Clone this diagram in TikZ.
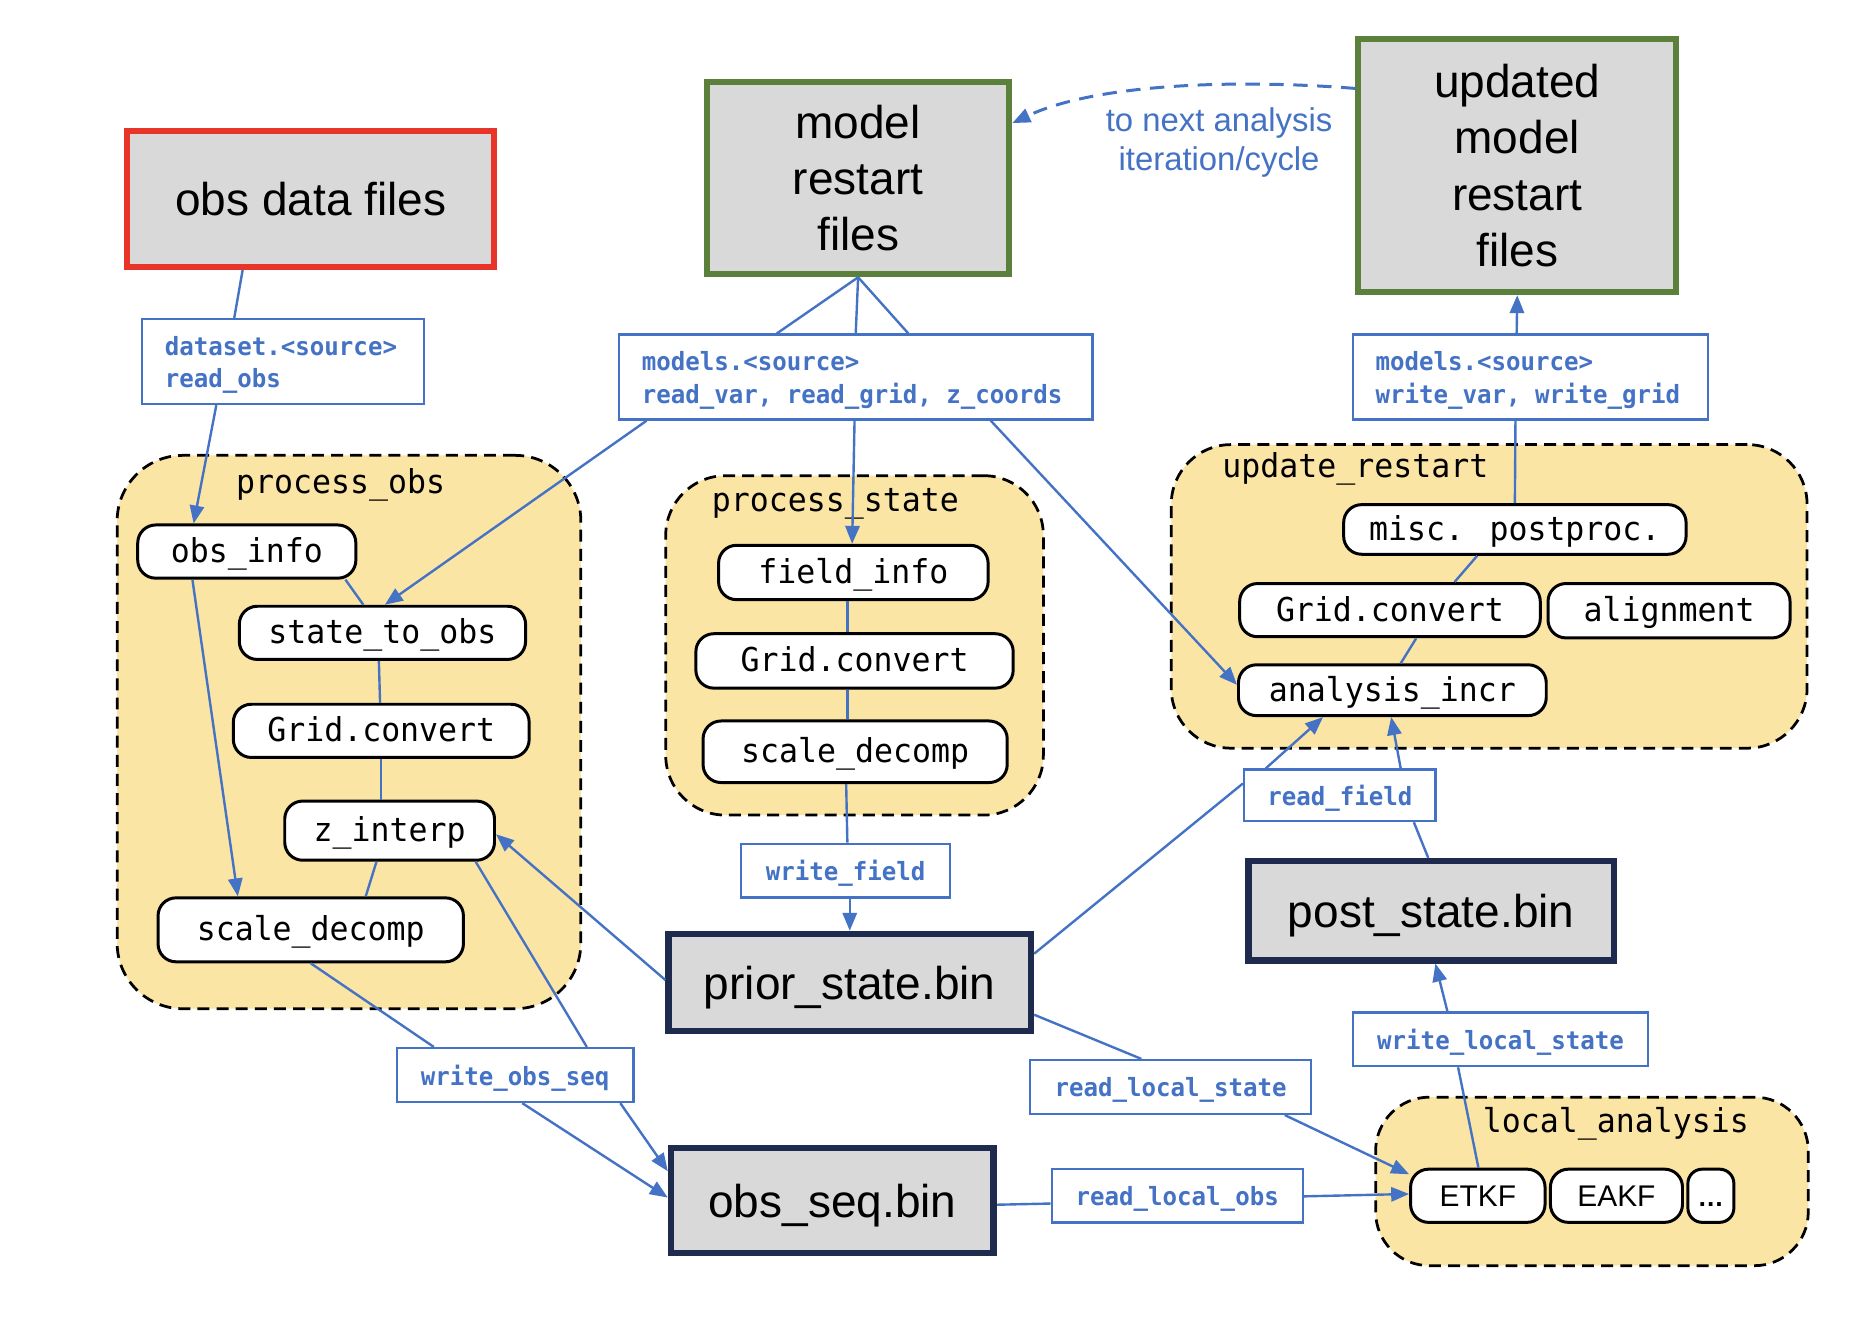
\documentclass[tikz,border=0pt]{standalone}
\usepackage{fontspec}
\setmainfont{Liberation Sans}
\newfontfamily\codefont{DejaVu Sans Mono}[FakeStretch=0.96]
\usetikzlibrary{arrows.meta,calc}
\definecolor{lblue}{HTML}{4472C4}
\definecolor{boxgray}{HTML}{D9D9D9}
\definecolor{grpyel}{HTML}{FBE5A5}
\definecolor{bred}{HTML}{E8352A}
\definecolor{bgreen}{HTML}{5B803C}
\definecolor{bnavy}{HTML}{1E2B4F}
\newcommand\fnfont{\codefont\fontsize{27.5}{30}\selectfont}
\newcommand\lblfont{\codefont\bfseries\fontsize{21}{27}\selectfont}
\newcommand\bigfont{\fontsize{38.5}{47}\selectfont}
\newcommand\twolines[3]{\begin{tabular}{@{}p{#1}@{}}\rule{0pt}{24.9pt}#2\\#3\end{tabular}}
\tikzset{
  bigbox/.style={draw, fill=boxgray, line width=5pt, inner sep=0pt, align=center, font=\bigfont},
  redbox/.style={bigbox, draw=bred},
  greenbox/.style={bigbox, draw=bgreen},
  navybox/.style={bigbox, draw=bnavy, line width=5.5pt, text depth=0pt},
  lblbase/.style={draw=lblue, line width=2pt, fill=white, inner sep=0pt, text=lblue, font=\lblfont},
  lbl/.style={lblbase, text depth=0pt},
  lbltwo/.style={lblbase, inner xsep=19pt, inner ysep=0pt},
  fnbox/.style={draw=black, line width=2.5pt, fill=white, rounded corners=15pt, inner sep=0pt, font=\fnfont, text height=21pt, text depth=2.5pt},
  grp/.style={draw=black, line width=2.3pt, fill=grpyel, dash pattern=on 10pt off 6pt},
  grptitle/.style={inner sep=0pt, font=\fnfont, text height=21pt, text depth=2.5pt},
  conn/.style={draw=lblue, line width=2pt},
  arr/.style={conn, -{Triangle[length=15pt,width=12pt]}},
}
\begin{document}
\begin{tikzpicture}[x=1pt,y=-1pt]
\useasboundingbox (0,0) rectangle (1568,1116);
\fill[white] (0,0) rectangle (1568,1116);

% groups
\node[grp, rounded corners=55pt, minimum width=388pt, minimum height=463pt] (gobs) at (292,612.5) {};
\node[grp, rounded corners=50pt, minimum width=316pt, minimum height=284pt] (gstate) at (715,540) {};
\node[grp, rounded corners=50pt, minimum width=532pt, minimum height=254pt] (gupd) at (1246,499) {};
\node[grp, rounded corners=45pt, minimum width=362pt, minimum height=141pt] (gloc) at (1332,988.5) {};
\node[grptitle] (tobs) at (285,404) {process\_obs};
\node[grptitle] (tstate) at (699,419) {process\_state};
\node[grptitle] (tupd) at (1134,390) {update\_restart};
\node[grptitle] (tloc) at (1352,938) {local\_analysis};

% big boxes
\node[redbox, minimum width=307pt, minimum height=114pt] (obsdata) at (260,166.5) {obs data files};
\node[greenbox, minimum width=253pt, minimum height=161pt] (model) at (718,149) {model\\restart\\files};
\node[greenbox, minimum width=266pt, minimum height=212pt] (updated) at (1269.5,138.5) {updated\\model\\restart\\files};
\node[navybox, minimum width=303pt, minimum height=81pt] (prior) at (711,822) {prior\_state.bin};
\node[navybox, minimum width=306pt, minimum height=83pt] (post) at (1197.5,762) {post\_state.bin};
\node[navybox, minimum width=270pt, minimum height=88pt] (obsseq) at (696.5,1004.5) {obs\_seq.bin};

\node[text=lblue, align=center, inner sep=0pt, font=\fontsize{27.5}{33}\selectfont] (nextlbl) at (1020,119) {to next analysis\\iteration/cycle};

% label boxes
\node[lbltwo, minimum height=71pt] (dset) at (237,302.5) {\twolines{198pt}{dataset.<source>}{read\_obs}};
\node[lbltwo, minimum height=71pt] (mread) at (716,315.5) {\twolines{358pt}{models.<source>}{read\_var, read\_grid, z\_coords}};
\node[lbltwo, minimum height=71pt] (mwrite) at (1280.5,315.5) {\twolines{259pt}{models.<source>}{write\_var, write\_grid}};
\node[lbl, minimum width=175pt, minimum height=45pt] (wfield) at (707.5,728.5) {write\_field};
\node[lbl, minimum width=160pt, minimum height=43pt] (rfield) at (1121,665.5) {read\_field};
\node[lbl, minimum width=198pt, minimum height=45pt] (wobs) at (431,899.5) {write\_obs\_seq};
\node[lbl, minimum width=235pt, minimum height=45pt] (rlstate) at (979.5,909.5) {read\_local\_state};
\node[lbl, minimum width=247pt, minimum height=45pt] (wlstate) at (1255.5,869.5) {write\_local\_state};
\node[lbl, minimum width=210pt, minimum height=45pt] (rlobs) at (985,1000.5) {read\_local\_obs};

% function boxes
\node[fnbox, minimum width=182.5pt, minimum height=44.5pt] (obsinfo) at (206.5,461.5) {obs\_info};
\node[fnbox, minimum width=239.5pt, minimum height=44.5pt] (sto) at (320,529.5) {state\_to\_obs};
\node[fnbox, minimum width=247.5pt, minimum height=44.5pt] (gcone) at (319,611.5) {Grid.convert};
\node[fnbox, minimum width=175.5pt, minimum height=49.5pt] (zi) at (326,695) {z\_interp};
\node[fnbox, minimum width=255.5pt, minimum height=53.5pt] (sdone) at (260,778) {scale\_decomp};
\node[fnbox, minimum width=225.5pt, minimum height=45.5pt] (finfo) at (714,479) {field\_info};
\node[fnbox, minimum width=265.5pt, minimum height=45.5pt] (gctwo) at (715,553) {Grid.convert};
\node[fnbox, minimum width=254.5pt, minimum height=51.5pt] (sdtwo) at (715.5,629) {scale\_decomp};
\node[fnbox, minimum width=286.5pt, minimum height=41.5pt] (misc) at (1267.5,443) {misc. postproc.};
\node[fnbox, minimum width=251.5pt, minimum height=44.5pt] (gcthree) at (1163,510.5) {Grid.convert};
\node[fnbox, minimum width=202.5pt, minimum height=45.5pt] (align) at (1396.5,511) {alignment};
\node[fnbox, minimum width=257.5pt, minimum height=42.5pt] (aincr) at (1165,577.5) {analysis\_incr};
\node[fnbox, font=\fontsize{25}{30}\selectfont, minimum width=112.5pt, minimum height=44.5pt] (etkf) at (1236.5,1000.5) {ETKF};
\node[fnbox, font=\fontsize{25}{30}\selectfont, minimum width=110.5pt, minimum height=44.5pt] (eakf) at (1352.5,1000.5) {EAKF};
\node[fnbox, font=\bfseries\fontsize{22}{30}\selectfont, rounded corners=12pt, minimum width=38.5pt, minimum height=44.5pt] (dots) at (1431.5,1000.5) {\textellipsis};

% connectors
\draw[conn] ([xshift=-57pt]obsdata.south) -- ([xshift=-41pt]dset.north);
\draw[arr] ([xshift=-56pt]dset.south) -- ([xshift=-44.5pt]obsinfo.north);
\draw[conn] (model.south) -- ([xshift=-66pt]mread.north);
\draw[conn] (model.south) -- (mread.north);
\draw[conn] (model.south) -- ([xshift=44pt]mread.north);
\draw[arr] ([xshift=-175pt]mread.south) -- ([xshift=2pt]sto.north);
\draw[arr] ([xshift=-1pt]mread.south) -- ([xshift=-1pt]finfo.north);
\draw[arr] ([xshift=113pt]mread.south) -- ([yshift=4.5pt]aincr.west);
\draw[conn] ([xshift=82.5pt]obsinfo.south) -- ([xshift=-16pt]sto.north);
\draw[conn] ([xshift=-3pt]sto.south) -- ([xshift=-1pt]gcone.north);
\draw[conn] (gcone.south) -- ([xshift=-7pt]zi.north);
\draw[conn] ([xshift=-11pt]zi.south) -- ([xshift=46pt]sdone.north);
\draw[arr] ([xshift=-45.5pt]obsinfo.south) -- ([xshift=-61pt]sdone.north);
\draw[conn] ([xshift=-5pt]finfo.south) -- ([xshift=-6pt]gctwo.north);
\draw[conn] ([xshift=-6pt]gctwo.south) -- ([xshift=-6.5pt]sdtwo.north);
\draw[conn] ([xshift=-7.5pt]sdtwo.south) -- ([xshift=1.5pt]wfield.north);
\draw[arr] ([xshift=3.5pt]wfield.south) -- (prior.north);
\draw[arr] ([yshift=2pt]prior.west) -- ([yshift=-3pt]zi.east);
\draw[conn] ([xshift=72pt]zi.south) -- ([xshift=60pt]wobs.north);
\draw[arr] ([xshift=88pt]wobs.south) -- ([yshift=24.5pt]obsseq.west);
\draw[conn] (sdone.south) -- ([xshift=-68pt]wobs.north);
\draw[arr] ([xshift=6pt]wobs.south) -- ([yshift=2.5pt]obsseq.west);
\draw[conn] ([yshift=24pt]prior.east) -- ([yshift=10pt]rfield.west);
\draw[arr] ([xshift=-62pt]rfield.north) -- ([xshift=-58pt]aincr.south);
\draw[conn] ([xshift=-2.5pt]post.north) -- ([xshift=62pt]rfield.south);
\draw[arr] ([xshift=51pt]rfield.north) -- ([xshift=-1pt]aincr.south);
\draw[conn] ([xshift=7pt]aincr.north) -- ([xshift=22pt]gcthree.south);
\draw[conn] ([xshift=54pt]gcthree.north) -- ([xshift=-31.5pt]misc.south);
\draw[conn] (misc.north) -- ([xshift=-12.5pt]mwrite.south);
\draw[arr] ([xshift=-11.5pt]mwrite.north) -- (updated.south);
\draw[conn] ([yshift=-27pt]prior.east) -- ([xshift=-24.5pt]rlstate.north);
\draw[arr] ([xshift=95.5pt]rlstate.south) -- ([yshift=18pt]etkf.west);
\draw[conn] ([yshift=-3.5pt]obsseq.east) -- ([yshift=-6.5pt]rlobs.west);
\draw[arr] ([yshift=-0.5pt]rlobs.east) -- ([yshift=1.5pt]etkf.west);
\draw[conn] ([xshift=0.5pt]etkf.north) -- ([xshift=-35.5pt]wlstate.south);
\draw[arr] ([xshift=-44.5pt]wlstate.north) -- ([xshift=3.5pt]post.south);
\draw[arr, line width=2.5pt, dash pattern=on 12pt off 8pt] ([yshift=64.5pt]updated.west) .. controls +(-100,-8) and +(70,-33) .. ([yshift=46pt]model.east);
\end{tikzpicture}
\end{document}
